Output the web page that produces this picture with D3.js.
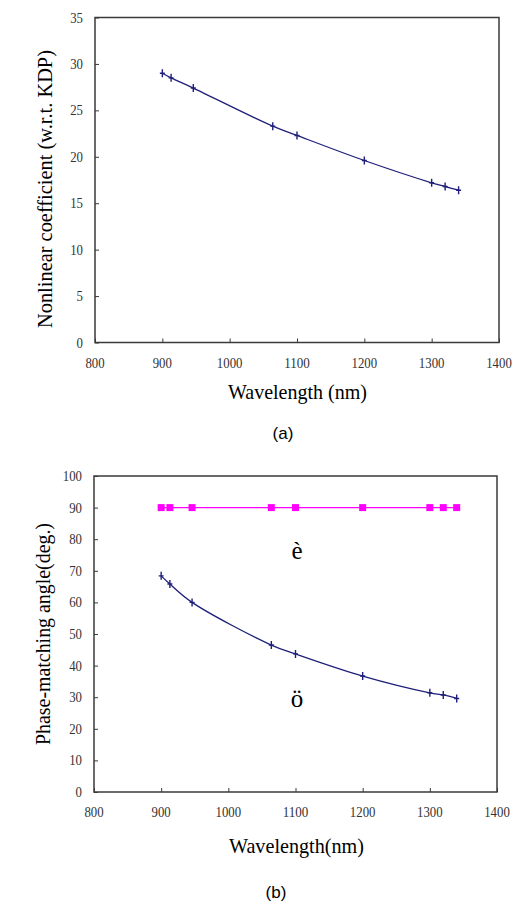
<!DOCTYPE html>
<html>
<head>
<meta charset="utf-8">
<script src="https://cdn.jsdelivr.net/npm/d3@7"></script>
<style>
  body { margin: 0; background: #fff; }
  svg { display: block; }
</style>
</head>
<body>
<svg width="513" height="921"></svg>
<script>
// wavelengths shared by both panels (nm)
const wavelengths = [900, 913, 946, 1064, 1100, 1200, 1300, 1320, 1340];
// panel (a): nonlinear coefficient relative to KDP
const nonlinearCoef = [29.0, 28.5, 27.4, 23.3, 22.3, 19.6, 17.2, 16.8, 16.4];
// panel (b): phase matching angles
const thetaAngle = [90, 90, 90, 90, 90, 90, 90, 90, 90];
const phiAngle = [68.4, 65.8, 60.0, 46.5, 43.7, 36.7, 31.4, 30.7, 29.6];

const xTicks = [800, 900, 1000, 1100, 1200, 1300, 1400];
const yTicksA = [0, 5, 10, 15, 20, 25, 30, 35];
const yTicksB = [0, 10, 20, 30, 40, 50, 60, 70, 80, 90, 100];

const svg = d3.select("svg");
const tickFont = "'Liberation Serif', serif";
const navy = "#1f1f7a";

function panel(opts) {
    const g = svg.append("g");
    const x = d3.scaleLinear().domain([800, 1400]).range([opts.left, opts.right]);
    const y = d3.scaleLinear().domain(opts.yDomain).range([opts.bottom, opts.top]);

    // frame
    g.append("rect")
        .attr("x", opts.left).attr("y", opts.top)
        .attr("width", opts.right - opts.left).attr("height", opts.bottom - opts.top)
        .attr("fill", "none").attr("stroke", "#3a3a3a").attr("stroke-width", 1.5);

    // axes with inward ticks
    const xAxis = g.append("g")
        .attr("transform", `translate(0,${opts.bottom})`)
        .call(d3.axisTop(x).tickValues(xTicks).tickSize(4).tickFormat(""));
    xAxis.select(".domain").remove();
    xAxis.selectAll("line").attr("stroke", "#3a3a3a");
    g.selectAll(".xlab").data(xTicks).enter().append("text")
        .attr("x", d => x(d)).attr("y", opts.bottom + 25)
        .attr("text-anchor", "middle")
        .attr("textLength", d => String(d).length * 6.4).attr("lengthAdjust", "spacingAndGlyphs")
        .style("font-family", tickFont).style("font-size", "14px").attr("fill", "#333")
        .text(d => d);

    const yAxis = g.append("g")
        .attr("transform", `translate(${opts.left},0)`)
        .call(d3.axisRight(y).tickValues(opts.yTicks).tickSize(4).tickFormat(""));
    yAxis.select(".domain").remove();
    yAxis.selectAll("line").attr("stroke", "#3a3a3a");
    g.selectAll(".ylab").data(opts.yTicks).enter().append("text")
        .attr("x", opts.left - 12).attr("y", d => y(d) + 5)
        .attr("text-anchor", "end")
        .attr("textLength", d => String(d).length * 6.4).attr("lengthAdjust", "spacingAndGlyphs")
        .style("font-family", tickFont).style("font-size", "14px").attr("fill", "#333")
        .text(d => d);

    // titles
    g.append("text")
        .attr("x", opts.xTitle.x).attr("y", opts.xTitle.y)
        .attr("textLength", opts.xTitle.len).attr("lengthAdjust", "spacingAndGlyphs")
        .style("font-family", tickFont).style("font-size", "21px")
        .text(opts.xTitle.text);
    g.append("text")
        .attr("transform", `translate(${opts.yTitle.x},${opts.yTitle.y}) rotate(-90)`)
        .attr("textLength", opts.yTitle.len).attr("lengthAdjust", "spacingAndGlyphs")
        .style("font-family", tickFont).style("font-size", "21px")
        .text(opts.yTitle.text);
    g.append("text")
        .attr("x", opts.caption.x).attr("y", opts.caption.y)
        .attr("text-anchor", "middle")
        .style("font-family", "'Liberation Sans', Arial, sans-serif").style("font-size", "17px")
        .text(opts.caption.text);

    return { g, x, y };
}

function plusLine(p, values, color) {
    const line = d3.line()
        .x((d, i) => p.x(wavelengths[i]))
        .y(d => p.y(d))
        .curve(d3.curveCatmullRom.alpha(0.5));
    p.g.append("path").datum(values)
        .attr("d", line).attr("fill", "none")
        .attr("stroke", color).attr("stroke-width", 1.3);
    p.g.selectAll(null).data(values).enter().append("path")
        .attr("d", (d, i) => {
            const cx = p.x(wavelengths[i]), cy = p.y(d);
            return `M${cx},${cy - 4}V${cy + 4}M${cx - 2.5},${cy}H${cx + 2.5}`;
        })
        .attr("stroke", color).attr("stroke-width", 1.4);
}

// panel (a)
const pa = panel({
    left: 95, right: 499, top: 17.5, bottom: 342.5,
    yDomain: [0, 35], yTicks: yTicksA,
    xTitle: { x: 228, y: 399, len: 139, text: "Wavelength (nm)" },
    yTitle: { x: 52, y: 328, len: 278, text: "Nonlinear coefficient (w.r.t. KDP)" },
    caption: { x: 283, y: 439, text: "(a)" }
});
plusLine(pa, nonlinearCoef, navy);

// panel (b)
const pb = panel({
    left: 94, right: 497, top: 476, bottom: 792,
    yDomain: [0, 100], yTicks: yTicksB,
    xTitle: { x: 229, y: 853, len: 135, text: "Wavelength(nm)" },
    yTitle: { x: 50, y: 745, len: 222, text: "Phase-matching angle(deg.)" },
    caption: { x: 276, y: 898, text: "(b)" }
});

// theta series: magenta squares
pb.g.append("path").datum(thetaAngle)
    .attr("d", d3.line().x((d, i) => pb.x(wavelengths[i])).y(d => pb.y(d)))
    .attr("fill", "none").attr("stroke", "#ff00ff").attr("stroke-width", 1.2);
pb.g.selectAll(".sq").data(thetaAngle).enter().append("rect")
    .attr("x", (d, i) => pb.x(wavelengths[i]) - 3.5)
    .attr("y", d => pb.y(d) - 3.5)
    .attr("width", 7).attr("height", 7)
    .attr("fill", "#ff00ff");

plusLine(pb, phiAngle, navy);

// series symbols (Symbol-font glyphs as shown)
pb.g.append("text")
    .attr("x", 297).attr("y", 559).attr("text-anchor", "middle")
    .style("font-family", tickFont).style("font-size", "25px")
    .text("è");
pb.g.append("text")
    .attr("x", 297).attr("y", 707).attr("text-anchor", "middle")
    .style("font-family", tickFont).style("font-size", "25px")
    .text("ö");
</script>
</body>
</html>
